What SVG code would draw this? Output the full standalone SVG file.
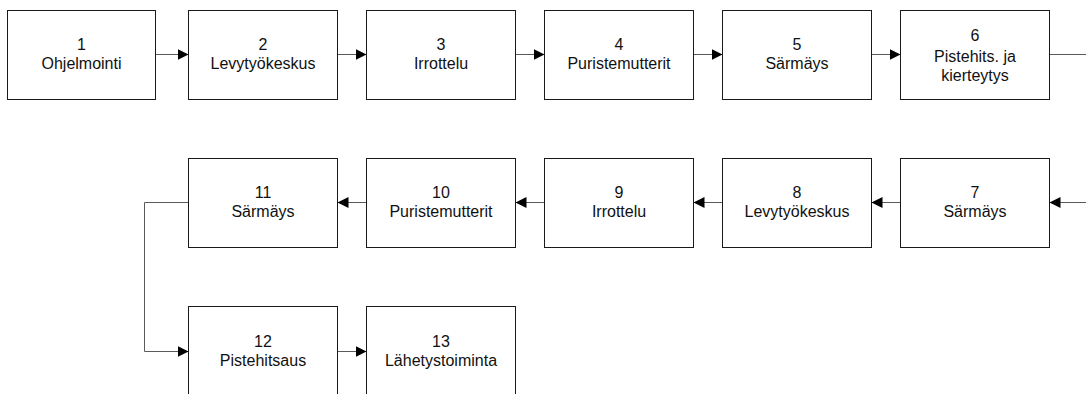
<svg xmlns="http://www.w3.org/2000/svg" width="1086" height="394" viewBox="0 0 1086 394">
  <style>
    .box { fill: #ffffff; stroke: #1a1a1a; stroke-width: 1; }
    .lbl { font-family: "Liberation Sans", Arial, sans-serif; font-size: 16px; fill: #111111; text-anchor: middle; }
    .wire { fill: none; stroke: #5a5a5a; stroke-width: 1; }
  </style>
  <defs>
    <marker id="arr" viewBox="0 0 11 11" refX="11" refY="5.5" markerWidth="11" markerHeight="11" markerUnits="userSpaceOnUse" orient="auto">
      <path d="M0,0 L11,5.5 L0,11 z" fill="#000000"/>
    </marker>
  </defs>
  <rect width="1086" height="394" fill="#ffffff"/>

  <!-- connectors -->
  <g id="connectors">
    <path class="wire" d="M155.5,54.5 H188.5" marker-end="url(#arr)"/>
    <path class="wire" d="M337.5,54.5 H366.5" marker-end="url(#arr)"/>
    <path class="wire" d="M515.5,54.5 H544.5" marker-end="url(#arr)"/>
    <path class="wire" d="M693.5,54.5 H722.5" marker-end="url(#arr)"/>
    <path class="wire" d="M871.5,54.5 H900.5" marker-end="url(#arr)"/>
    <path class="wire" d="M1049.5,54.5 H1086"/>
    <path class="wire" d="M1086,202.5 H1049.5" marker-end="url(#arr)"/>
    <path class="wire" d="M900.5,202.5 H871.5" marker-end="url(#arr)"/>
    <path class="wire" d="M722.5,202.5 H693.5" marker-end="url(#arr)"/>
    <path class="wire" d="M544.5,202.5 H515.5" marker-end="url(#arr)"/>
    <path class="wire" d="M366.5,202.5 H337.5" marker-end="url(#arr)"/>
    <path class="wire" d="M188.5,202.5 H144.5 V351.5 H188.5" marker-end="url(#arr)"/>
    <path class="wire" d="M337.5,351.5 H366.5" marker-end="url(#arr)"/>
  </g>

  <!-- top row -->
  <g id="n1">
    <rect class="box" x="7.5" y="10.5" width="148" height="89"/>
    <text class="lbl" x="81.5" y="49.5">1</text>
    <text class="lbl" x="81.5" y="68.5">Ohjelmointi</text>
  </g>
  <g id="n2">
    <rect class="box" x="188.5" y="10.5" width="149" height="89"/>
    <text class="lbl" x="263" y="49.5">2</text>
    <text class="lbl" x="263" y="68.5">Levytyökeskus</text>
  </g>
  <g id="n3">
    <rect class="box" x="366.5" y="10.5" width="149" height="89"/>
    <text class="lbl" x="441" y="49.5">3</text>
    <text class="lbl" x="441" y="68.5">Irrottelu</text>
  </g>
  <g id="n4">
    <rect class="box" x="544.5" y="10.5" width="149" height="89"/>
    <text class="lbl" x="619" y="49.5">4</text>
    <text class="lbl" x="619" y="68.5">Puristemutterit</text>
  </g>
  <g id="n5">
    <rect class="box" x="722.5" y="10.5" width="149" height="89"/>
    <text class="lbl" x="797" y="49.5">5</text>
    <text class="lbl" x="797" y="68.5">Särmäys</text>
  </g>
  <g id="n6">
    <rect class="box" x="900.5" y="10.5" width="149" height="89"/>
    <text class="lbl" x="975" y="40.5">6</text>
    <text class="lbl" x="975" y="61.5">Pistehits. ja</text>
    <text class="lbl" x="975" y="80.5">kierteytys</text>
  </g>

  <!-- middle row -->
  <g id="n7">
    <rect class="box" x="900.5" y="158.5" width="149" height="89"/>
    <text class="lbl" x="975" y="197.5">7</text>
    <text class="lbl" x="975" y="216.5">Särmäys</text>
  </g>
  <g id="n8">
    <rect class="box" x="722.5" y="158.5" width="149" height="89"/>
    <text class="lbl" x="797" y="197.5">8</text>
    <text class="lbl" x="797" y="216.5">Levytyökeskus</text>
  </g>
  <g id="n9">
    <rect class="box" x="544.5" y="158.5" width="149" height="89"/>
    <text class="lbl" x="619" y="197.5">9</text>
    <text class="lbl" x="619" y="216.5">Irrottelu</text>
  </g>
  <g id="n10">
    <rect class="box" x="366.5" y="158.5" width="149" height="89"/>
    <text class="lbl" x="441" y="197.5">10</text>
    <text class="lbl" x="441" y="216.5">Puristemutterit</text>
  </g>
  <g id="n11">
    <rect class="box" x="188.5" y="158.5" width="149" height="89"/>
    <text class="lbl" x="263" y="197.5">11</text>
    <text class="lbl" x="263" y="216.5">Särmäys</text>
  </g>

  <!-- bottom row -->
  <g id="n12">
    <rect class="box" x="188.5" y="306.5" width="149" height="89"/>
    <text class="lbl" x="263" y="346.5">12</text>
    <text class="lbl" x="263" y="365.5">Pistehitsaus</text>
  </g>
  <g id="n13">
    <rect class="box" x="366.5" y="306.5" width="149" height="89"/>
    <text class="lbl" x="441" y="346.5">13</text>
    <text class="lbl" x="441" y="365.5">Lähetystoiminta</text>
  </g>
</svg>
